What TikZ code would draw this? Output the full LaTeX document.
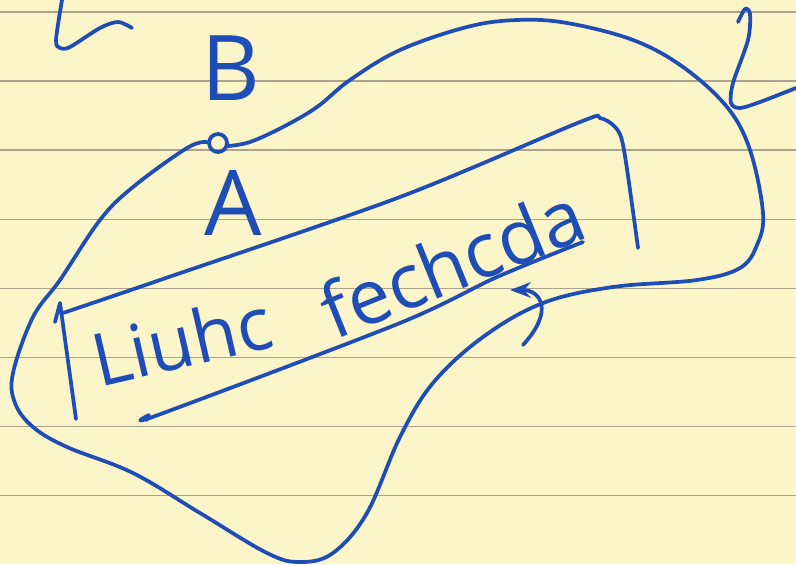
\documentclass[tikz,border=0pt]{standalone}
\usepackage{fontspec}
\setmainfont{Open Sans}
\usetikzlibrary{arrows.meta}
\definecolor{paper}{RGB}{251,245,201}
\definecolor{pencil}{RGB}{31,77,182}
\definecolor{ruling}{RGB}{172,163,140}
\begin{document}
\begin{tikzpicture}[x=0.75pt, y=-0.75pt, >=Stealth,
    ink/.style={draw=pencil, line width=2.8pt, line cap=round, line join=round},
    rule/.style={draw=ruling, line width=1.1pt},
    hand/.style={text=pencil, inner sep=0pt}]
  \fill[paper] (0,0) rectangle (796,564);
  \useasboundingbox (0,0) rectangle (796,564);
  \foreach \k in {0,...,7}
    \draw[rule] (0,{12+69.1*\k}) -- (796,{12+69.1*\k});
  % labels
  \node[hand, font=\fontsize{68}{70}\selectfont] (B) at (231,68) {B};
  \node[hand, font=\fontsize{68}{70}\selectfont] (A) at (233,203) {A};
  \node[hand, font=\fontsize{55}{58}\selectfont, rotate=13] (liuhc) at (182,340) {Liuhc};
  \node[hand, font=\fontsize{57}{60}\selectfont, rotate=22] (fechcda) at (452,262) {fechcda};
  % point between A and B
  \draw[ink] (218,143) circle (9);
  % the big loop
  \draw[ink] plot[smooth, tension=0.6] coordinates {(228,146) (250,142) (283,127)
    (317,107) (350,80) (400,50) (467,27) (517,20) (567,23) (633,40) (683,67)
    (727,107) (750,150) (763,213) (757,245) (740,268) (697,280) (613,287)
    (543,303) (483,337) (433,383) (400,437) (367,513) (333,553) (300,562)
    (267,553) (200,513) (133,473) (67,447) (33,427) (15,403) (13,373) (33,317)
    (60,280) (100,220) (133,187) (187,148) (207,142)};
  % box round the words
  \draw[ink] (55,322) -- (60,303) -- (76,419);
  \draw[ink] plot[smooth, tension=0.5] coordinates {(63,313) (160,280) (400,197)
    (580,122) (600,118) (616,128) (624,150) (638,248)};
  \draw[ink] plot[smooth, tension=0.5] coordinates {(147,420) (149,415) (158,415)
    (400,323) (497,277) (583,242)};
  % arrow
  \coordinate (tail) at (523,345);
  \coordinate (tip) at (510,290);
  \draw[ink, ->] (tail) .. controls (555,310) and (540,290) .. (tip);
  % strokes at the edges
  \draw[ink] plot[smooth, tension=0.5] coordinates {(62,0) (56,40) (60,48)
    (70,47) (100,28) (118,22) (132,28)};
  \draw[ink] plot[smooth, tension=0.5] coordinates {(738,22) (745,9) (750,14)
    (748,40) (733,83) (731,103) (740,108) (760,102) (796,88)};
\end{tikzpicture}
\end{document}
